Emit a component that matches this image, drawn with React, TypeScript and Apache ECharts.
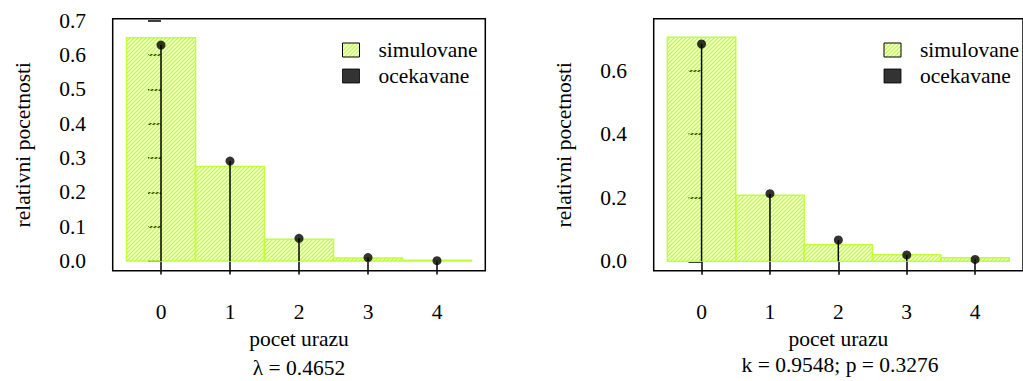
import React, { useEffect, useRef } from "react";
import * as echarts from "echarts";

const categories = [0, 1, 2, 3, 4];
const simLeft = [0.650, 0.275, 0.063, 0.009, 0.002];
const expLeft = [0.629, 0.291, 0.066, 0.010, 0.001];
const simRight = [0.705, 0.208, 0.052, 0.021, 0.011];
const expRight = [0.684, 0.213, 0.067, 0.020, 0.006];
const yTicksLeft = [0, 0.1, 0.2, 0.3, 0.4, 0.5, 0.6, 0.7];
const yTicksRight = [0, 0.2, 0.4, 0.6];
const subLeft = "λ = 0.4652";
const subRight = "k = 0.9548; p = 0.3276";

const GREEN = "#c0ff3e";
const FONT = "Liberation Serif";
const FS = 21.5;

function makeHatch() {
  const c = document.createElement("canvas");
  c.width = 4;
  c.height = 4;
  const ctx = c.getContext("2d")!;
  ctx.strokeStyle = GREEN;
  ctx.lineWidth = 1.5;
  ctx.beginPath();
  ctx.moveTo(-1, 5);
  ctx.lineTo(5, -1);
  ctx.moveTo(-1, 1);
  ctx.lineTo(1, -1);
  ctx.moveTo(3, 5);
  ctx.lineTo(5, 3);
  ctx.stroke();
  return { image: c, repeat: "repeat", imageWidth: 4, imageHeight: 4 } as any;
}

export default function App() {
  const ref = useRef<HTMLDivElement>(null);
  useEffect(() => {
    if (!ref.current) return;
    const chart = echarts.init(ref.current, null, { renderer: "svg" });
    const hatch = makeHatch();

    const txt = { fontFamily: FONT, fontSize: FS, color: "#000" };

    const grids = [
      { left: 112.7, top: 18.7, width: 372.6, height: 252 },
      { left: 653.7, top: 18.7, width: 372.6, height: 252 },
    ];

    const mkX = (gi: number) => ({
      type: "value",
      gridIndex: gi,
      min: -0.7,
      max: 4.7,
      name: "pocet urazu",
      nameLocation: "middle",
      nameGap: 67,
      nameTextStyle: { ...txt, verticalAlign: "middle" },
      axisLine: { show: false },
      axisTick: {
        show: true,
        length: 13.5,
        customValues: categories,
        lineStyle: { color: "#000", width: 1.5 },
      },
      axisLabel: {
        ...txt,
        customValues: categories,
        margin: 41,
        verticalAlign: "middle",
        formatter: (v: number) => String(v),
      },
      splitLine: { show: false },
    });

    const mkY = (gi: number, min: number, max: number, ticks: number[]) => ({
      type: "value",
      gridIndex: gi,
      min,
      max,
      name: "relativni pocetnosti",
      nameLocation: "middle",
      nameGap: 90,
      nameTextStyle: { ...txt, verticalAlign: "middle" },
      axisLine: { show: false },
      axisTick: {
        show: true,
        length: 13,
        customValues: ticks,
        lineStyle: { color: "#000", width: 1.5 },
      },
      axisLabel: {
        ...txt,
        customValues: ticks,
        margin: 26.7,
        formatter: (v: number) => v.toFixed(1),
      },
      splitLine: { show: false },
    });

    const barSeries = (gi: number, vals: number[]) => ({
      type: "custom",
      name: "simulovane",
      xAxisIndex: gi,
      yAxisIndex: gi,
      itemStyle: { color: hatch, borderColor: GREEN },
      encode: { x: 0, y: 1 },
      data: categories.map((c, i) => [c, vals[i]]),
      z: 2,
      renderItem: (params: any, api: any) => {
        const x = api.value(0);
        const y = api.value(1);
        const p1 = api.coord([x - 0.5, y]);
        const p2 = api.coord([x + 0.5, 0]);
        return {
          type: "rect",
          shape: { x: p1[0], y: p1[1], width: p2[0] - p1[0], height: p2[1] - p1[1] },
          style: { fill: hatch, stroke: GREEN, lineWidth: 1.5 },
        };
      },
    });

    const stemSeries = (gi: number, vals: number[]) => ({
      type: "custom",
      name: "stems",
      xAxisIndex: gi,
      yAxisIndex: gi,
      encode: { x: 0, y: 1 },
      data: categories.map((c, i) => [c, vals[i]]),
      z: 3,
      renderItem: (params: any, api: any) => {
        const x = api.value(0);
        const y = api.value(1);
        const p1 = api.coord([x, 0]);
        const p2 = api.coord([x, y]);
        return {
          type: "line",
          shape: { x1: p1[0], y1: p1[1], x2: p2[0], y2: p2[1] },
          style: { stroke: "#000", lineWidth: 1.5 },
        };
      },
    });

    const pointSeries = (gi: number, vals: number[]) => ({
      type: "scatter",
      name: "ocekavane",
      xAxisIndex: gi,
      yAxisIndex: gi,
      symbol: "circle",
      symbolSize: 9,
      itemStyle: { color: "#000" },
      data: categories.map((c, i) => [c, vals[i]]),
      z: 4,
    });

    const mkLegend = (left: number) => ({
      orient: "vertical",
      left,
      top: 34,
      itemWidth: 17,
      itemHeight: 14,
      itemGap: 4,
      itemStyle: { borderColor: "#000", borderWidth: 1 },
      textStyle: { ...txt, lineHeight: 22, padding: [0, 0, 0, 14] },
      data: [
        { name: "simulovane", icon: "rect" },
        { name: "ocekavane", icon: "rect" },
      ],
    });

    chart.setOption({
      animation: false,
      backgroundColor: "#fff",
      textStyle: { fontFamily: FONT },
      grid: grids.map((g) => ({
        ...g,
        show: true,
        borderColor: "#000",
        borderWidth: 1.5,
        backgroundColor: "transparent",
      })),
      xAxis: [mkX(0), mkX(1)],
      yAxis: [
        mkY(0, -0.0283, 0.7058, yTicksLeft),
        mkY(1, -0.0296, 0.7637, yTicksRight),
      ],
      legend: [mkLegend(337), mkLegend(878.5)],
      series: [
        barSeries(0, simLeft),
        stemSeries(0, expLeft),
        pointSeries(0, expLeft),
        barSeries(1, simRight),
        stemSeries(1, expRight),
        pointSeries(1, expRight),
      ],
      graphic: [
        {
          type: "text",
          x: 299,
          y: 368,
          style: { text: subLeft, font: `${FS}px "${FONT}"`, fill: "#000", align: "center", verticalAlign: "middle" },
        },
        {
          type: "text",
          x: 840,
          y: 365,
          style: { text: subRight, font: `${FS}px "${FONT}"`, fill: "#000", align: "center", verticalAlign: "middle" },
        },
      ],
    });
    return () => chart.dispose();
  }, []);
  return (
    <div
      ref={ref}
      style={{ position: "absolute", left: 0, top: 0, width: 1023, height: 381, background: "#fff" }}
    />
  );
}
